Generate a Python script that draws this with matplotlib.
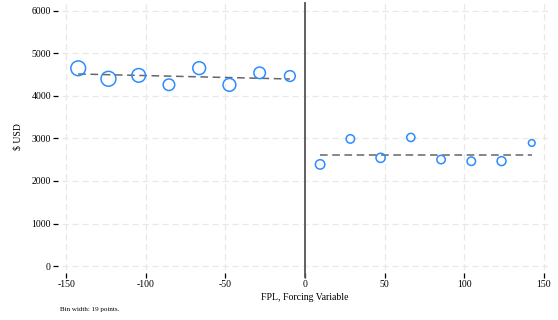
import matplotlib.pyplot as plt

# --- Data (binned means, bin width 19) ---
left_x = [-142.5, -123.5, -104.5, -85.5, -66.5, -47.5, -28.5, -9.5]
left_y = [4652, 4405, 4485, 4265, 4655, 4262, 4545, 4470]
left_n = [49, 50, 42, 30, 37, 37, 30, 26]

right_x = [9.5, 28.5, 47.5, 66.5, 85.5, 104.5, 123.5, 142.5]
right_y = [2390, 2990, 2545, 3025, 2505, 2465, 2468, 2895]
right_n = [20, 16, 19, 15, 16, 16, 18, 10]

# linear fits on each side (values at the first and last bin)
fit_left_x = [-142.5, -9.5]
fit_left_y = [4518, 4400]
fit_right_x = [9.5, 142.5]
fit_right_y = [2615, 2615]

x_ticks = [-150, -100, -50, 0, 50, 100, 150]
y_ticks = [0, 1000, 2000, 3000, 4000, 5000, 6000]

plt.rcParams['font.family'] = ['Liberation Serif', 'DejaVu Serif']

W, H = 558, 320
fig = plt.figure(figsize=(W / 100, H / 100), dpi=100)
ax = fig.add_axes([62 / W, 1 - 270 / H, (548 - 62) / W, (270 - 3) / H])

# grid
ax.grid(True, color='#e8e8e8', linestyle=(0, (5, 3)), linewidth=0.9)
ax.set_axisbelow(True)

# cutoff line
ax.axvline(0, ymin=-0.026, ymax=1, color='#555555', linewidth=1.3, clip_on=False, zorder=2)

# fits
ax.plot(fit_left_x, fit_left_y, color='#666666', linestyle=(0, (5, 3)), linewidth=1.1, zorder=3)
ax.plot(fit_right_x, fit_right_y, color='#666666', linestyle=(0, (5, 3)), linewidth=1.1, zorder=3)

# binned points, marker area tied to bin count
k = 2.3
ax.scatter(left_x, left_y, s=[n * k for n in left_n], facecolors='none',
           edgecolors='#2d8cff', linewidths=1.1, zorder=4)
ax.scatter(right_x, right_y, s=[n * k for n in right_n], facecolors='none',
           edgecolors='#2d8cff', linewidths=1.1, zorder=4)

ax.set_xlim(-152.7, 152.7)
ax.set_ylim(-94, 6188)
ax.set_xticks(x_ticks)
ax.set_yticks(y_ticks)
ax.set_xticklabels([str(v) for v in x_ticks])

for side in ['top', 'right']:
    ax.spines[side].set_visible(False)
ax.spines['left'].set_position(('outward', 3))
ax.spines['bottom'].set_position(('outward', 2))
ax.spines['left'].set_visible(False)
ax.spines['bottom'].set_visible(False)
ax.tick_params(axis='both', length=3.5, width=0.9, color='black', labelsize=7, pad=1.5)

ax.set_xlabel('FPL, Forcing Variable', fontsize=7, labelpad=3)
ax.set_ylabel('$ USD', fontsize=7, labelpad=6)

fig.text(60 / W, 1 - 310 / H, 'Bin width: 19 points.', fontsize=5, va='center', ha='left')

plt.savefig('out.png', dpi=100)
